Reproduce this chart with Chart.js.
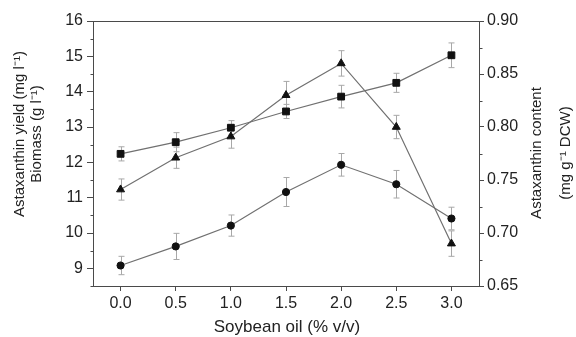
<!DOCTYPE html>
<html>
<head>
<meta charset="utf-8">
<script src="https://cdn.jsdelivr.net/npm/chart.js@4/dist/chart.umd.min.js"></script>
<style>
  html, body { margin: 0; padding: 0; background: #fff; }
  #wrap { width: 576px; height: 337px; }
</style>
</head>
<body>
<div id="wrap"><canvas id="astaChart" width="576" height="337"></canvas></div>
<script>
// soybean oil concentrations (% v/v)
const oilLevels = [0.0, 0.5, 1.0, 1.5, 2.0, 2.5, 3.0];

// biomass, g/l (squares, left axis)
const biomass = [12.24, 12.57, 12.98, 13.44, 13.86, 14.25, 15.03];
const biomassErr = [0.2, 0.27, 0.2, 0.2, 0.32, 0.27, 0.35];

// astaxanthin yield, mg/l (circles, left axis)
const astaYield = [9.08, 9.62, 10.21, 11.16, 11.93, 11.38, 10.41];
const astaYieldErr = [0.26, 0.37, 0.3, 0.41, 0.32, 0.39, 0.32];

// astaxanthin content, mg/g DCW (triangles, right axis)
const astaContent = [0.741, 0.771, 0.791, 0.830, 0.860, 0.800, 0.690];
const astaContentErr = [0.01, 0.01, 0.011, 0.013, 0.012, 0.011, 0.012];

// tick labels
const xTicks = [0.0, 0.5, 1.0, 1.5, 2.0, 2.5, 3.0];
const leftTicks = [9, 10, 11, 12, 13, 14, 15, 16];
const rightTicks = [0.65, 0.70, 0.75, 0.80, 0.85, 0.90];

const FONT = '"Liberation Sans", Arial, sans-serif';
const AXIS_COLOR = '#4a4a4a';
const LINE_COLOR = '#707070';

function withMinor(major, half) {
  const out = [];
  major.forEach(function(v, i) {
    out.push({ value: v });
    if (i < major.length - 1) out.push({ value: +(v + half).toFixed(4), minor: true });
  });
  out.unshift({ value: +(major[0] - half).toFixed(4), minor: true });
  return out;
}

// hide minor ticks from chart.js, they are drawn shorter below
function majorOnly(c) {
  return c.tick && c.tick.minor ? 'rgba(0,0,0,0)' : AXIS_COLOR;
}

const errorBars = {
  id: 'errorBars',
  beforeDatasetsDraw(chart) {
    const ctx = chart.ctx;
    ctx.save();
    ctx.strokeStyle = '#a8a8a8';
    ctx.lineWidth = 1;
    chart.data.datasets.forEach(function(ds, i) {
      const meta = chart.getDatasetMeta(i);
      const ys = chart.scales[meta.yAxisID];
      meta.data.forEach(function(pt, j) {
        const v = ds.data[j].y, e = ds.errors[j];
        const top = ys.getPixelForValue(v + e);
        const bot = ys.getPixelForValue(v - e);
        const x = Math.round(pt.x) + 0.5;
        ctx.beginPath();
        ctx.moveTo(x, top); ctx.lineTo(x, bot);
        ctx.moveTo(x - 3, top); ctx.lineTo(x + 3, top);
        ctx.moveTo(x - 3, bot); ctx.lineTo(x + 3, bot);
        ctx.stroke();
      });
    });
    ctx.restore();
  }
};

const frameAndTitles = {
  id: 'frameAndTitles',
  afterDraw(chart) {
    const ctx = chart.ctx;
    const a = chart.chartArea;
    ctx.save();
    ctx.strokeStyle = AXIS_COLOR;
    ctx.lineWidth = 1;
    ctx.strokeRect(Math.round(a.left) + 0.5, Math.round(a.top) + 0.5,
      Math.round(a.right - a.left), Math.round(a.bottom - a.top));

    // short minor ticks
    ['y', 'y1'].forEach(function(id) {
      const s = chart.scales[id];
      const left = id === 'y';
      const x0 = left ? Math.round(a.left) + 0.5 : Math.round(a.right) + 0.5;
      s.ticks.forEach(function(t) {
        if (!t.minor) return;
        const y = Math.round(s.getPixelForValue(t.value)) + 0.5;
        ctx.beginPath();
        ctx.moveTo(x0, y);
        ctx.lineTo(left ? x0 - 3 : x0 + 3, y);
        ctx.stroke();
      });
    });

    ctx.fillStyle = '#222';
    ctx.font = '15px ' + FONT;
    ctx.textAlign = 'center';
    ctx.textBaseline = 'middle';

    ctx.save();
    ctx.translate(20, 134);
    ctx.rotate(-Math.PI / 2);
    ctx.fillText('Astaxanthin yield (mg l\u207B\u00B9)', 0, 0);
    ctx.restore();

    ctx.save();
    ctx.translate(37, 134);
    ctx.rotate(-Math.PI / 2);
    ctx.fillText('Biomass (g l\u207B\u00B9)', 0, 0);
    ctx.restore();

    ctx.save();
    ctx.translate(537, 153);
    ctx.rotate(-Math.PI / 2);
    ctx.fillText('Astaxanthin content', 0, 0);
    ctx.restore();

    ctx.save();
    ctx.translate(566, 153);
    ctx.rotate(-Math.PI / 2);
    ctx.fillText('(mg g\u207B\u00B9 DCW)', 0, 0);
    ctx.restore();

    ctx.font = '17px ' + FONT;
    ctx.fillText('Soybean oil (% v/v)', 287, 327);
    ctx.restore();
  }
};

const ctx = document.getElementById('astaChart');
new Chart(ctx, {
  type: 'line',
  data: {
    datasets: [
      {
        label: 'Biomass',
        data: biomass.map(function(v, i) { return { x: oilLevels[i], y: v }; }),
        errors: biomassErr,
        yAxisID: 'y',
        borderColor: LINE_COLOR,
        borderWidth: 1.2,
        pointStyle: 'rect',
        pointRadius: 4.8,
        pointBackgroundColor: '#111',
        pointBorderColor: '#111',
        pointBorderWidth: 1
      },
      {
        label: 'Astaxanthin yield',
        data: astaYield.map(function(v, i) { return { x: oilLevels[i], y: v }; }),
        errors: astaYieldErr,
        yAxisID: 'y',
        borderColor: LINE_COLOR,
        borderWidth: 1.2,
        pointStyle: 'circle',
        pointRadius: 3.6,
        pointBackgroundColor: '#111',
        pointBorderColor: '#111',
        pointBorderWidth: 1
      },
      {
        label: 'Astaxanthin content',
        data: astaContent.map(function(v, i) { return { x: oilLevels[i], y: v }; }),
        errors: astaContentErr,
        yAxisID: 'y1',
        borderColor: LINE_COLOR,
        borderWidth: 1.2,
        pointStyle: 'triangle',
        pointRadius: 4.6,
        pointBackgroundColor: '#111',
        pointBorderColor: '#111',
        pointBorderWidth: 1
      }
    ]
  },
  options: {
    responsive: false,
    animation: false,
    layout: { padding: { top: 21, left: 0, right: 0, bottom: 0 } },
    plugins: {
      legend: { display: false },
      tooltip: { enabled: false }
    },
    scales: {
      x: {
        type: 'linear',
        min: -0.25,
        max: 3.25,
        afterBuildTicks: function(scale) {
          scale.ticks = xTicks.map(function(v) { return { value: v }; });
        },
        afterFit: function(scale) { scale.height = 51; },
        ticks: {
          color: '#222',
          font: { family: FONT, size: 16 },
          padding: 3,
          autoSkip: false,
          maxRotation: 0,
          callback: function(v) { return v.toFixed(1); }
        },
        grid: { drawOnChartArea: false, tickLength: 5, color: AXIS_COLOR },
        border: { color: AXIS_COLOR }
      },
      y: {
        position: 'left',
        min: 8.5,
        max: 16,
        afterBuildTicks: function(scale) {
          scale.ticks = withMinor(leftTicks, 0.5);
        },
        afterFit: function(scale) { scale.width = 93; },
        ticks: {
          color: '#222',
          font: { family: FONT, size: 16 },
          padding: 4,
          autoSkip: false,
          callback: function(v) { return Number.isInteger(v) ? String(v) : ''; }
        },
        grid: {
          drawOnChartArea: false,
          color: majorOnly,
          tickLength: 6
        },
        border: { color: AXIS_COLOR }
      },
      y1: {
        position: 'right',
        min: 0.65,
        max: 0.90,
        afterBuildTicks: function(scale) {
          scale.ticks = withMinor(rightTicks, 0.025).filter(function(t) {
            return t.value >= 0.65 && t.value <= 0.9;
          });
        },
        afterFit: function(scale) { scale.width = 97; },
        ticks: {
          color: '#222',
          font: { family: FONT, size: 16 },
          padding: 3,
          autoSkip: false,
          callback: function(v) {
            const r = Math.round(v * 1000);
            return r % 50 === 0 ? v.toFixed(2) : '';
          }
        },
        grid: {
          drawOnChartArea: false,
          color: majorOnly,
          tickLength: 5
        },
        border: { color: AXIS_COLOR }
      }
    }
  },
  plugins: [errorBars, frameAndTitles]
});
</script>
</body>
</html>
